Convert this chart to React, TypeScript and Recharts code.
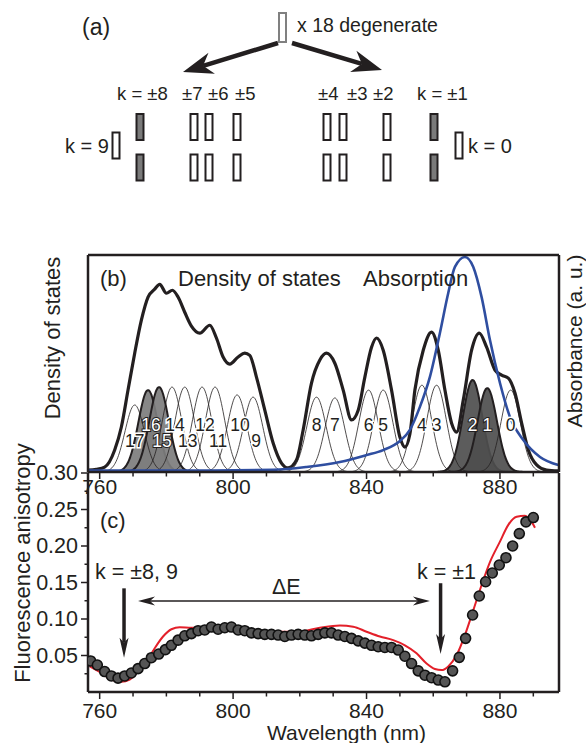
import React from 'react';
import {
  ComposedChart,
  ScatterChart,
  Line,
  Area,
  Scatter,
  XAxis,
  YAxis,
  ReferenceLine,
  ReferenceDot,
} from 'recharts';

const FONT = '"Liberation Sans", Arial, Helvetica, sans-serif';
const INK = '#231f20';

// ---------- (a) level scheme ----------
const levelNames = ['k = 9', '±8', '±7', '±6', '±5', '±4', '±3', '±2', '±1', 'k = 0'];
const levelEnergy = [116, 140, 194, 209, 237, 327, 343, 387, 434, 459];
const levelPaired = [false, true, true, true, true, true, true, true, true, false];
const levelShaded = [false, true, false, false, false, false, false, false, true, false];
const degenerateEnergy = 282.5;
const splitArrows = [
  { from: [278, 43], to: [183, 72] },
  { from: [292, 43], to: [382, 70] },
];

// ---------- (b) density of states / absorption ----------
const WL_DOMAIN: [number, number] = [756.5, 897.7];
const WL_TICKS = [760, 770, 780, 790, 800, 810, 820, 830, 840, 850, 860, 870, 880, 890];
const WL_LABELS = [760, 800, 840, 880];

const densityOfStates: [number, number][] = [
  [756.5, 0.07], [759, 0.1], [761.5, 0.18], [764.5, 0.81], [766.5, 1.66], [768.5, 3.02],
  [770.5, 4.38], [772.5, 5.6], [774.5, 6.45], [776.5, 6.74], [778, 6.92], [780, 6.59],
  [781.8, 6.7], [783.5, 6.45], [785.5, 5.89], [787.5, 5.38], [790, 5.12], [793, 5.41],
  [795, 4.94], [797, 4.24], [799, 3.98], [801.5, 4.24], [803.5, 4.38], [805, 4.3],
  [807, 3.5], [809.5, 2.28], [812, 1.07], [814.5, 0.33], [816.5, 0.15], [819, 0.44],
  [821, 1.55], [823.5, 3.28], [826, 4.13], [828, 4.38], [830.5, 4.01], [833, 3.02],
  [835.5, 1.92], [837.5, 2.28], [839.5, 3.5], [841.5, 4.6], [843, 4.94], [845, 4.49],
  [847.5, 3.02], [850, 1.29], [851.5, 0.92], [853, 1.4], [854.5, 3.02], [857, 4.49],
  [859.5, 5.16], [861.5, 4.49], [863.5, 3.02], [865.5, 1.8], [867, 1.47], [869, 2.65],
  [871.5, 4.49], [873.8, 5.12], [876, 4.6], [878.5, 3.76], [880.5, 3.57], [882.5, 3.46],
  [884.5, 2.91], [886.5, 1.8], [888.5, 0.81], [891, 0.26], [894, 0.07], [897.5, 0.04],
];

const absorbance: [number, number][] = [
  [756.5, 0.007], [790, 0.007], [812, 0.01], [822, 0.023], [832, 0.046], [840, 0.078],
  [845, 0.101], [850, 0.143], [853, 0.194], [856, 0.3], [859, 0.438], [862, 0.641],
  [864.5, 0.825], [866.5, 0.945], [869.5, 0.991], [872, 0.945], [874.5, 0.806],
  [877, 0.608], [880, 0.41], [883, 0.253], [887, 0.147], [892, 0.069], [897.5, 0.032],
];

// exciton states 17..0: band centre (nm) and amplitude
const stateNumber = [17, 16, 15, 14, 13, 12, 11, 10, 9, 8, 7, 6, 5, 4, 3, 2, 1, 0];
const stateCentre = [
  770.5, 774.5, 777.8, 781.7, 785.5, 790.7, 794.6, 801.2, 806,
  825, 830.5, 840.6, 845, 856.6, 861, 871.8, 876.2, 883.2,
];
const stateAmplitude = [
  2.47, 3.02, 3.13, 3.13, 3.13, 3.13, 3.13, 2.84, 2.76,
  2.76, 2.73, 3.02, 3.02, 3.2, 3.2, 3.39, 3.09, 3.02,
];
const stateSigma = 2.9;
const lightShadedStates = [16, 15];
const darkShadedStates = [2, 1];

// ---------- (c) anisotropy ----------
const ANISO_TICKS = [0.025, 0.05, 0.075, 0.1, 0.125, 0.15, 0.175, 0.2, 0.225, 0.25, 0.275, 0.3];

const anisotropyMeasured: [number, number][] = [
  [757.3, 0.0425], [759.3, 0.037], [761.5, 0.028], [763.5, 0.022], [765.5, 0.019],
  [767.5, 0.022], [769.5, 0.026], [771.5, 0.032], [773.5, 0.039], [775.5, 0.047],
  [777.7, 0.052], [779.7, 0.058], [781.5, 0.064], [783.5, 0.071], [785.5, 0.077],
  [787.5, 0.08], [789.5, 0.084], [791.5, 0.085], [793.5, 0.089], [795.5, 0.086],
  [797.5, 0.088], [799.5, 0.089], [801.5, 0.085], [803.5, 0.084], [805.5, 0.081],
  [807.5, 0.08], [809.5, 0.079], [811.5, 0.079], [813.5, 0.078], [815.5, 0.076],
  [817.5, 0.078], [819.5, 0.079], [821.5, 0.078], [823.5, 0.077], [825.5, 0.079],
  [827.5, 0.081], [829.5, 0.081], [831.5, 0.078], [833.5, 0.076], [835.5, 0.0735],
  [837.5, 0.07], [839.5, 0.067], [841.5, 0.064], [843.5, 0.062], [845.5, 0.061],
  [847.5, 0.061], [849.5, 0.0575], [851.5, 0.049], [853.5, 0.039], [855.5, 0.029],
  [857.5, 0.023], [859.5, 0.0196], [861.5, 0.0164], [863.5, 0.014], [865.8, 0.029],
  [867.8, 0.0475], [869.7, 0.0735], [871.8, 0.1055], [873.8, 0.1315], [875.7, 0.151],
  [877.7, 0.163], [879.8, 0.174], [881.8, 0.184], [883.8, 0.2], [885.8, 0.217],
  [887.8, 0.233], [890, 0.239],
];

const anisotropyModel: [number, number][] = [
  [757, 0.035], [760.5, 0.026], [763.5, 0.017], [766.5, 0.014], [769, 0.017],
  [771.5, 0.028], [774, 0.0415], [776.5, 0.06], [779, 0.076], [781.5, 0.086],
  [784, 0.0886], [787.5, 0.088], [795.5, 0.0895], [803.5, 0.087], [811.5, 0.0826],
  [819.5, 0.0826], [826, 0.088], [832, 0.091], [836, 0.0895], [840, 0.0826],
  [844, 0.076], [848, 0.071], [851.5, 0.064], [855, 0.053], [858, 0.039],
  [860.5, 0.0315], [862.5, 0.03], [864.5, 0.035], [867, 0.0507], [869.5, 0.078],
  [872, 0.112], [874.5, 0.1466], [877, 0.178], [880, 0.206], [882.5, 0.229],
  [885, 0.24], [887.5, 0.2415], [889.5, 0.233], [890.5, 0.225],
];

const bandArrows = [
  { wavelength: 767.3, from: 0.142, to: 0.047 },
  { wavelength: 862.2, from: 0.149, to: 0.052 },
];
const splitting = { from: 771.5, to: 859, level: 0.1247 };

// ---------- helpers ----------
const toPoints = (rows: [number, number][]) => rows.map(([x, y]) => ({ x, y }));

const gaussianBand = (centre: number, amp: number) => {
  const pts: { x: number; y: number }[] = [];
  for (let x = centre - 4 * stateSigma; x <= centre + 4 * stateSigma + 1e-6; x += 0.25) {
    pts.push({ x, y: amp * Math.exp(-((x - centre) ** 2) / (2 * stateSigma * stateSigma)) });
  }
  return pts;
};

function arrowHead(x2: number, y2: number, ux: number, uy: number, len: number, half: number, notch: number) {
  const nx = -uy;
  const ny = ux;
  const bx = x2 - ux * len;
  const by = y2 - uy * len;
  const mx = x2 - ux * (len - notch);
  const my = y2 - uy * (len - notch);
  return {
    points: `${x2},${y2} ${bx + nx * half},${by + ny * half} ${mx},${my} ${bx - nx * half},${by - ny * half}`,
    mx,
    my,
  };
}

const makeArrow = (shaft: number, len: number, half: number, notch: number, both = false) => (p: any) => {
  const { x1, y1, x2, y2 } = p;
  const L = Math.hypot(x2 - x1, y2 - y1) || 1;
  const ux = (x2 - x1) / L;
  const uy = (y2 - y1) / L;
  const end = arrowHead(x2, y2, ux, uy, len, half, notch);
  const start = both ? arrowHead(x1, y1, -ux, -uy, len, half, notch) : null;
  return (
    <g>
      <line
        x1={start ? start.mx : x1}
        y1={start ? start.my : y1}
        x2={end.mx}
        y2={end.my}
        stroke={INK}
        strokeWidth={shaft}
      />
      <polygon points={end.points} fill={INK} />
      {start && <polygon points={start.points} fill={INK} />}
    </g>
  );
};

// level bars for the scheme
const LevelBar = (p: any) => {
  const { cx, cy, payload } = p;
  const h = payload.top ? 29 : 26;
  return (
    <rect
      x={cx - 3.5}
      y={cy - h / 2}
      width={7}
      height={h}
      fill={payload.shaded ? '#7a7a7a' : '#fff'}
      stroke={payload.top ? '#808080' : INK}
      strokeWidth={2}
    />
  );
};

const stateTag = (label: string, shaded: boolean) => (p: any) => (
  <text
    x={p.cx}
    y={p.cy}
    textAnchor="middle"
    dominantBaseline="central"
    fontSize={17.5}
    fontFamily={FONT}
    fill={shaded ? '#fff' : INK}
    stroke={shaded ? INK : '#fff'}
    strokeWidth={shaded ? 2 : 3}
    paintOrder="stroke"
  >
    {label}
  </text>
);

// wavelength ticks: long ticks with a label every 40 nm, short ones between
const wavelengthTick = (baseline: number, fontSize: number) => (p: any) => {
  const v = p.payload.value as number;
  const major = WL_LABELS.includes(v);
  return (
    <g>
      <line x1={p.x} x2={p.x} y1={p.y} y2={p.y + (major ? 7 : 4.5)} stroke={INK} strokeWidth={1.5} />
      {major && (
        <text x={p.x} y={p.y + baseline} textAnchor="middle" fontSize={fontSize} fontFamily={FONT} fill={INK}>
          {v}
        </text>
      )}
    </g>
  );
};

const AnisoTick = (p: any) => {
  const v = p.payload.value as number;
  const major = Math.round(v / 0.025) % 2 === 0;
  return (
    <g>
      <line x1={p.x} x2={p.x - (major ? 7 : 3.5)} y1={p.y} y2={p.y} stroke={INK} strokeWidth={1.5} />
      {major && (
        <text x={p.x - 10} y={p.y} textAnchor="end" dominantBaseline="central" fontSize={21.5} fontFamily={FONT} fill={INK}>
          {v.toFixed(2)}
        </text>
      )}
    </g>
  );
};

const DataDot = (p: any) => (
  <circle cx={p.cx} cy={p.cy} r={5} fill="#555" stroke="#111" strokeWidth={1.6} />
);

const frame = { stroke: INK, strokeWidth: 2.5 };
const tickStroke = { stroke: INK, strokeWidth: 1.5 };

export default function App() {
  const upperRow = 127;
  const lowerRow = 167.5;
  const midRow = 145.5;
  const schemeLevels = levelEnergy.flatMap((e, i) =>
    levelPaired[i]
      ? [
          { x: e, y: upperRow, shaded: levelShaded[i], name: levelNames[i] },
          { x: e, y: lowerRow, shaded: levelShaded[i], name: levelNames[i] },
        ]
      : [{ x: e, y: midRow, shaded: levelShaded[i], name: levelNames[i] }],
  );
  const topLevel = [{ x: degenerateEnergy, y: 27.5, top: true }];

  const dos = toPoints(densityOfStates);
  const abs = toPoints(absorbance);
  const bands = stateNumber.map((k, i) => ({
    k,
    centre: stateCentre[i],
    amp: stateAmplitude[i],
    pts: gaussianBand(stateCentre[i], stateAmplitude[i]),
  }));
  const measured = toPoints(anisotropyMeasured);
  const model = toPoints(anisotropyModel);

  const txt = { fontFamily: FONT, fill: INK } as const;

  return (
    <div
      style={{
        position: 'absolute',
        left: 0,
        top: 0,
        width: 586,
        height: 743,
        background: '#fff',
        fontFamily: FONT,
        overflow: 'hidden',
      }}
    >
      {/* (a) */}
      <div style={{ position: 'absolute', left: 0, top: 0 }}>
        <ScatterChart width={586} height={200} margin={{ top: 0, right: 0, bottom: 0, left: 0 }}>
          <XAxis type="number" dataKey="x" domain={[0, 586]} hide />
          <YAxis type="number" dataKey="y" domain={[0, 200]} reversed hide />
          {splitArrows.map((a, i) => (
            <ReferenceLine
              key={i}
              segment={[{ x: a.from[0], y: a.from[1] }, { x: a.to[0], y: a.to[1] }]}
              shape={makeArrow(4.5, 30, 11, 9)}
            />
          ))}
          <Scatter data={schemeLevels} shape={LevelBar} isAnimationActive={false} />
          <Scatter data={topLevel} shape={LevelBar} isAnimationActive={false} />
        </ScatterChart>
      </div>

      {/* (b) */}
      <div style={{ position: 'absolute', left: 0, top: 230 }}>
        <ComposedChart width={586} height={280} margin={{ top: 25, right: 27, bottom: 8, left: 82 }}>
          <XAxis
            xAxisId="b"
            dataKey="x"
            type="number"
            domain={WL_DOMAIN}
            allowDataOverflow
            ticks={WL_TICKS}
            interval={0}
            tickSize={0}
            tickMargin={0}
            height={30}
            axisLine={frame}
            tickLine={false}
            tick={wavelengthTick(22, 21)}
          />
          <XAxis
            xAxisId="t"
            orientation="top"
            mirror
            dataKey="x"
            type="number"
            domain={WL_DOMAIN}
            allowDataOverflow
            ticks={WL_TICKS}
            interval={0}
            tick={false}
            tickSize={3}
            axisLine={frame}
            tickLine={tickStroke}
          />
          <YAxis
            yAxisId="dos"
            type="number"
            domain={[0, 8]}
            allowDataOverflow
            ticks={[0, 1, 2, 3, 4, 5, 6, 7, 8]}
            interval={0}
            tick={false}
            tickSize={4}
            width={6}
            axisLine={frame}
            tickLine={tickStroke}
          />
          <YAxis
            yAxisId="abs"
            orientation="right"
            mirror
            type="number"
            domain={[0, 1]}
            allowDataOverflow
            tick={false}
            tickLine={false}
            axisLine={frame}
          />
          {bands
            .filter((b) => !lightShadedStates.includes(b.k) && !darkShadedStates.includes(b.k))
            .map((b) => (
              <Line
                key={`l${b.k}`}
                xAxisId="b"
                yAxisId="dos"
                data={b.pts}
                dataKey="y"
                type="monotone"
                stroke={INK}
                strokeWidth={0.8}
                dot={false}
                activeDot={false}
                isAnimationActive={false}
              />
            ))}
          {bands
            .filter((b) => lightShadedStates.includes(b.k) || darkShadedStates.includes(b.k))
            .map((b) => (
              <Area
                key={`a${b.k}`}
                xAxisId="b"
                yAxisId="dos"
                data={b.pts}
                dataKey="y"
                type="monotone"
                baseValue={0}
                fill={lightShadedStates.includes(b.k) ? '#7d7d7d' : '#4e4e4e'}
                fillOpacity={0.92}
                stroke={INK}
                strokeWidth={2}
                dot={false}
                activeDot={false}
                isAnimationActive={false}
              />
            ))}
          <Line
            xAxisId="b"
            yAxisId="dos"
            data={dos}
            dataKey="y"
            type="monotone"
            stroke={INK}
            strokeWidth={3.2}
            dot={false}
            activeDot={false}
            isAnimationActive={false}
          />
          <Line
            xAxisId="b"
            yAxisId="abs"
            data={abs}
            dataKey="y"
            type="monotone"
            stroke="#2f4ea0"
            strokeWidth={2.6}
            dot={false}
            activeDot={false}
            isAnimationActive={false}
          />
          {bands.map((b) => {
            const shaded = lightShadedStates.includes(b.k) || darkShadedStates.includes(b.k);
            // upper-band numbers sit on two staggered rows, lower-band ones on one row
            const low = b.k >= 9 && b.k % 2 === 1;
            const shift = b.k >= 9 && b.k < 17 ? 0.9 : 0;
            return (
              <ReferenceDot
                key={`t${b.k}`}
                xAxisId="b"
                yAxisId="dos"
                x={b.centre + shift}
                y={low ? 1.14 : 1.73}
                r={0}
                shape={stateTag(String(b.k), shaded)}
              />
            );
          })}
        </ComposedChart>
      </div>

      {/* (c) */}
      <div style={{ position: 'absolute', left: 0, top: 460 }}>
        <ComposedChart width={586} height={283} margin={{ top: 13, right: 27, bottom: 21, left: 28 }}>
          <XAxis
            dataKey="x"
            type="number"
            domain={WL_DOMAIN}
            allowDataOverflow
            ticks={WL_TICKS}
            interval={0}
            tickSize={0}
            tickMargin={0}
            height={30}
            axisLine={frame}
            tickLine={false}
            tick={wavelengthTick(25.5, 21)}
          />
          <YAxis
            dataKey="y"
            type="number"
            domain={[0, 0.3]}
            allowDataOverflow
            ticks={ANISO_TICKS}
            interval={0}
            width={60}
            tickSize={0}
            tickMargin={0}
            tickLine={false}
            tick={AnisoTick}
            axisLine={frame}
          />
          <YAxis
            yAxisId="r"
            orientation="right"
            mirror
            type="number"
            domain={[0, 0.3]}
            allowDataOverflow
            ticks={ANISO_TICKS}
            interval={0}
            tick={false}
            tickSize={4}
            axisLine={frame}
            tickLine={tickStroke}
          />
          <Line
            data={model}
            dataKey="y"
            type="monotone"
            stroke="#e3202a"
            strokeWidth={2}
            dot={false}
            activeDot={false}
            isAnimationActive={false}
          />
          <Scatter data={measured} dataKey="y" shape={DataDot} isAnimationActive={false} />
          {bandArrows.map((a, i) => (
            <ReferenceLine
              key={i}
              segment={[{ x: a.wavelength, y: a.from }, { x: a.wavelength, y: a.to }]}
              shape={makeArrow(3.5, 20, 4.5, 5)}
            />
          ))}
          <ReferenceLine
            segment={[{ x: splitting.from, y: splitting.level }, { x: splitting.to, y: splitting.level }]}
            shape={makeArrow(1.6, 17, 4.5, 5, true)}
          />
        </ComposedChart>
      </div>

      {/* text */}
      <svg
        width={586}
        height={743}
        style={{ position: 'absolute', left: 0, top: 0, pointerEvents: 'none' }}
      >
        <g {...txt}>
          <text x={82} y={35} fontSize={23}>(a)</text>
          <text x={297} y={32} fontSize={19.5}>x 18 degenerate</text>
          <text x={117} y={100} fontSize={18.5}>k = ±8</text>
          <text x={182} y={100} fontSize={18.5}>±7</text>
          <text x={208} y={100} fontSize={18.5}>±6</text>
          <text x={235} y={100} fontSize={18.5}>±5</text>
          <text x={318} y={100} fontSize={18.5}>±4</text>
          <text x={347} y={100} fontSize={18.5}>±3</text>
          <text x={373} y={100} fontSize={18.5}>±2</text>
          <text x={417} y={100} fontSize={18.5}>k = ±1</text>
          <text x={65} y={153} fontSize={20}>k = 9</text>
          <text x={468} y={153} fontSize={20}>k = 0</text>

          <text x={100} y={286} fontSize={22}>(b)</text>
          <text x={178} y={286} fontSize={22}>Density of states</text>
          <text x={363} y={286} fontSize={22}>Absorption</text>
          <text
            transform="translate(52,338) rotate(-90)"
            textAnchor="middle"
            dominantBaseline="central"
            fontSize={22}
          >
            Density of states
          </text>
          <text
            transform="translate(574,341) rotate(-90)"
            textAnchor="middle"
            dominantBaseline="central"
            fontSize={21}
          >
            Absorbance (a. u.)
          </text>

          <text x={100} y={528} fontSize={22}>(c)</text>
          <text x={95} y={579} fontSize={21.5}>k = ±8, 9</text>
          <text x={272} y={594} fontSize={21.5}>ΔE</text>
          <text x={417} y={579} fontSize={21.5}>k = ±1</text>
          <text
            transform="translate(22,563) rotate(-90)"
            textAnchor="middle"
            dominantBaseline="central"
            fontSize={22}
          >
            Fluorescence anisotropy
          </text>
          <text x={346.5} y={740} textAnchor="middle" fontSize={21}>Wavelength (nm)</text>
        </g>
      </svg>
    </div>
  );
}
